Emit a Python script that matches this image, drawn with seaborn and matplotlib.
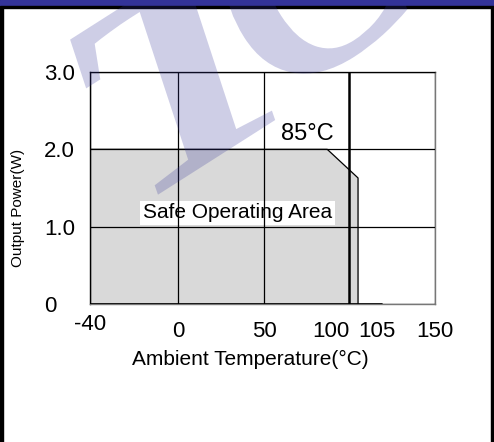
import numpy as np
import matplotlib
matplotlib.use('Agg')
import matplotlib.pyplot as plt
import matplotlib.transforms as mtransforms
from matplotlib.patches import Rectangle, PathPatch
from matplotlib.textpath import TextPath
from matplotlib.font_manager import FontProperties
import seaborn as sns

# ---- data ----
curve_temp = [-40, 87, 105, 105]
curve_power = [2.0, 2.0, 1.63, 0.0]
baseline_temp = [-40, 119]
baseline_power = [0.0, 0.0]
x_major = [-40, 0, 50, 100, 150]
x_major_labels = ["-40", "0", "50", "100", "150"]
x_minor = [105]
x_minor_labels = ["105"]
y_ticks = [0, 1, 2, 3]
y_labels = ["0", "1.0", "2.0", "3.0"]
knee_label = "85°C"
area_label = "Safe Operating Area"
x_title = "Ambient Temperature(°C)"
y_title = "Output Power(W)"
watermark = "TC"

sns.set_theme(style='white')
plt.rcParams['font.family'] = ['Liberation Sans', 'DejaVu Sans']

W, H = 494, 442
fig = plt.figure(figsize=(W / 100, H / 100), dpi=100)
fig.patch.set_facecolor('white')
ax = fig.add_axes([90 / W, 1 - 304 / H, 345 / W, 232 / H])

# negative temperatures compressed onto one grid cell
NEG = 51.7 / 40
def fwd(x):
    x = np.asarray(x, float)
    return np.where(x < 0, x * NEG, x)
def inv(x):
    x = np.asarray(x, float)
    return np.where(x < 0, x / NEG, x)
ax.set_xscale('function', functions=(fwd, inv))
ax.set_xlim(-40, 150)
ax.set_ylim(0, 3)

ax.fill_between(curve_temp, curve_power, color='#d9d9d9', lw=0, zorder=1)
sns.lineplot(x=curve_temp, y=curve_power, sort=False, estimator=None,
             color='black', lw=0.9, ax=ax, zorder=3)
sns.lineplot(x=baseline_temp, y=baseline_power, sort=False, estimator=None,
             color='black', lw=1.2, ax=ax, zorder=3)

ax.set_xticks(x_major)
ax.set_xticklabels(x_major_labels)
ax.set_xticks(x_minor, minor=True)
ax.set_xticklabels(x_minor_labels, minor=True)
ax.set_yticks(y_ticks)
ax.set_yticklabels(y_labels)
ax.grid(True, which='major', color='black', lw=0.9)
ax.set_axisbelow(False)
for gl, v in zip(ax.get_xgridlines(), x_major):
    if v == 100:
        gl.set_linewidth(1.8)

ax.tick_params(axis='x', which='both', length=0, pad=12, labelsize=16, colors='black')
ax.tick_params(axis='y', length=0, pad=33, labelsize=16, colors='black')
for lab in ax.get_yticklabels():
    lab.set_horizontalalignment('left')
for lab in ax.get_xticklabels():
    if lab.get_text() == "100":
        lab.set_horizontalalignment('right')
    if lab.get_text() == "-40":
        lab.set_transform(lab.get_transform() +
                          mtransforms.ScaledTranslation(0, 0.07, fig.dpi_scale_trans))
for lab in ax.get_xticklabels(minor=True):
    lab.set_horizontalalignment('left')

ax.spines['left'].set_color('black')
ax.spines['top'].set_color('#333333')
ax.spines['right'].set_color('#777777')
ax.spines['bottom'].set_color('#777777')
for s in ax.spines.values():
    s.set_linewidth(1.0)

ax.set_xlabel(x_title, fontsize=15, color='black')
ax.xaxis.set_label_coords(0.465, -0.198)
ax.set_ylabel(y_title, fontsize=11, color='black')
ax.yaxis.set_label_coords(-0.188, 0.414)

ax.text(91, 2.12, knee_label, ha='right', va='baseline', fontsize=17, color='black',
        zorder=4)
ax.text(34.5, 1.18, area_label, ha='center', va='center', fontsize=15, color='black',
        zorder=2, bbox=dict(facecolor='white', edgecolor='none', pad=2))

# frame decoration
fig.patches.append(Rectangle((0, 0), 3 / W, 1, transform=fig.transFigure,
                             color='black', zorder=1))
fig.patches.append(Rectangle((1 - 3 / W, 0), 3 / W, 1, transform=fig.transFigure,
                             color='black', zorder=1))
fig.patches.append(Rectangle((0, 1 - 6 / H), 1, 6 / H, transform=fig.transFigure,
                             color='#333399', zorder=1))
fig.patches.append(Rectangle((0, 1 - 8 / H), 1, 2 / H, transform=fig.transFigure,
                             color='black', zorder=1))

# watermark (translucent rotated serif letters)
fp = FontProperties(family='Liberation Serif', style='italic', weight='bold')
ANG = 32.5

def add_glyph(ch, anchor_g, anchor_px, sx, sy):
    tp = TextPath((0, 0), ch, size=1, prop=fp)
    tr = (mtransforms.Affine2D().translate(-anchor_g[0], -anchor_g[1])
          .scale(sx, sy).rotate_deg(ANG)
          .translate(anchor_px[0], H - anchor_px[1]))
    path = tr.transform_path(tp)
    patch = PathPatch(path, transform=mtransforms.IdentityTransform(),
                      facecolor='#333399', edgecolor='none', alpha=0.24, zorder=10)
    fig.add_artist(patch)

tT = TextPath((0, 0), watermark[0], size=1, prop=fp)
vT = tT.vertices
ymax = vT[:, 1].max()
top = vT[vT[:, 1] > 0.85 * ymax]
xmin_top = top[:, 0].min()
base = vT[np.abs(vT[:, 1]) < 0.02]
xB = 0.5 * (base[:, 0].min() + base[:, 0].max())
sy_T = 178 / ymax
sx_T = min(85.1 / (xB - xmin_top), 1.45 * sy_T)
add_glyph(watermark[0], (xB, 0.0), (203, 166), sx_T, sy_T)

tC = TextPath((0, 0), watermark[1], size=1, prop=fp)
vC = tC.vertices
cC = (0.5 * (vC[:, 0].min() + vC[:, 0].max()), 0.5 * (vC[:, 1].min() + vC[:, 1].max()))
add_glyph(watermark[1], cC, (306, -24), 280, 280)

fig.savefig('out.png', dpi=100)
